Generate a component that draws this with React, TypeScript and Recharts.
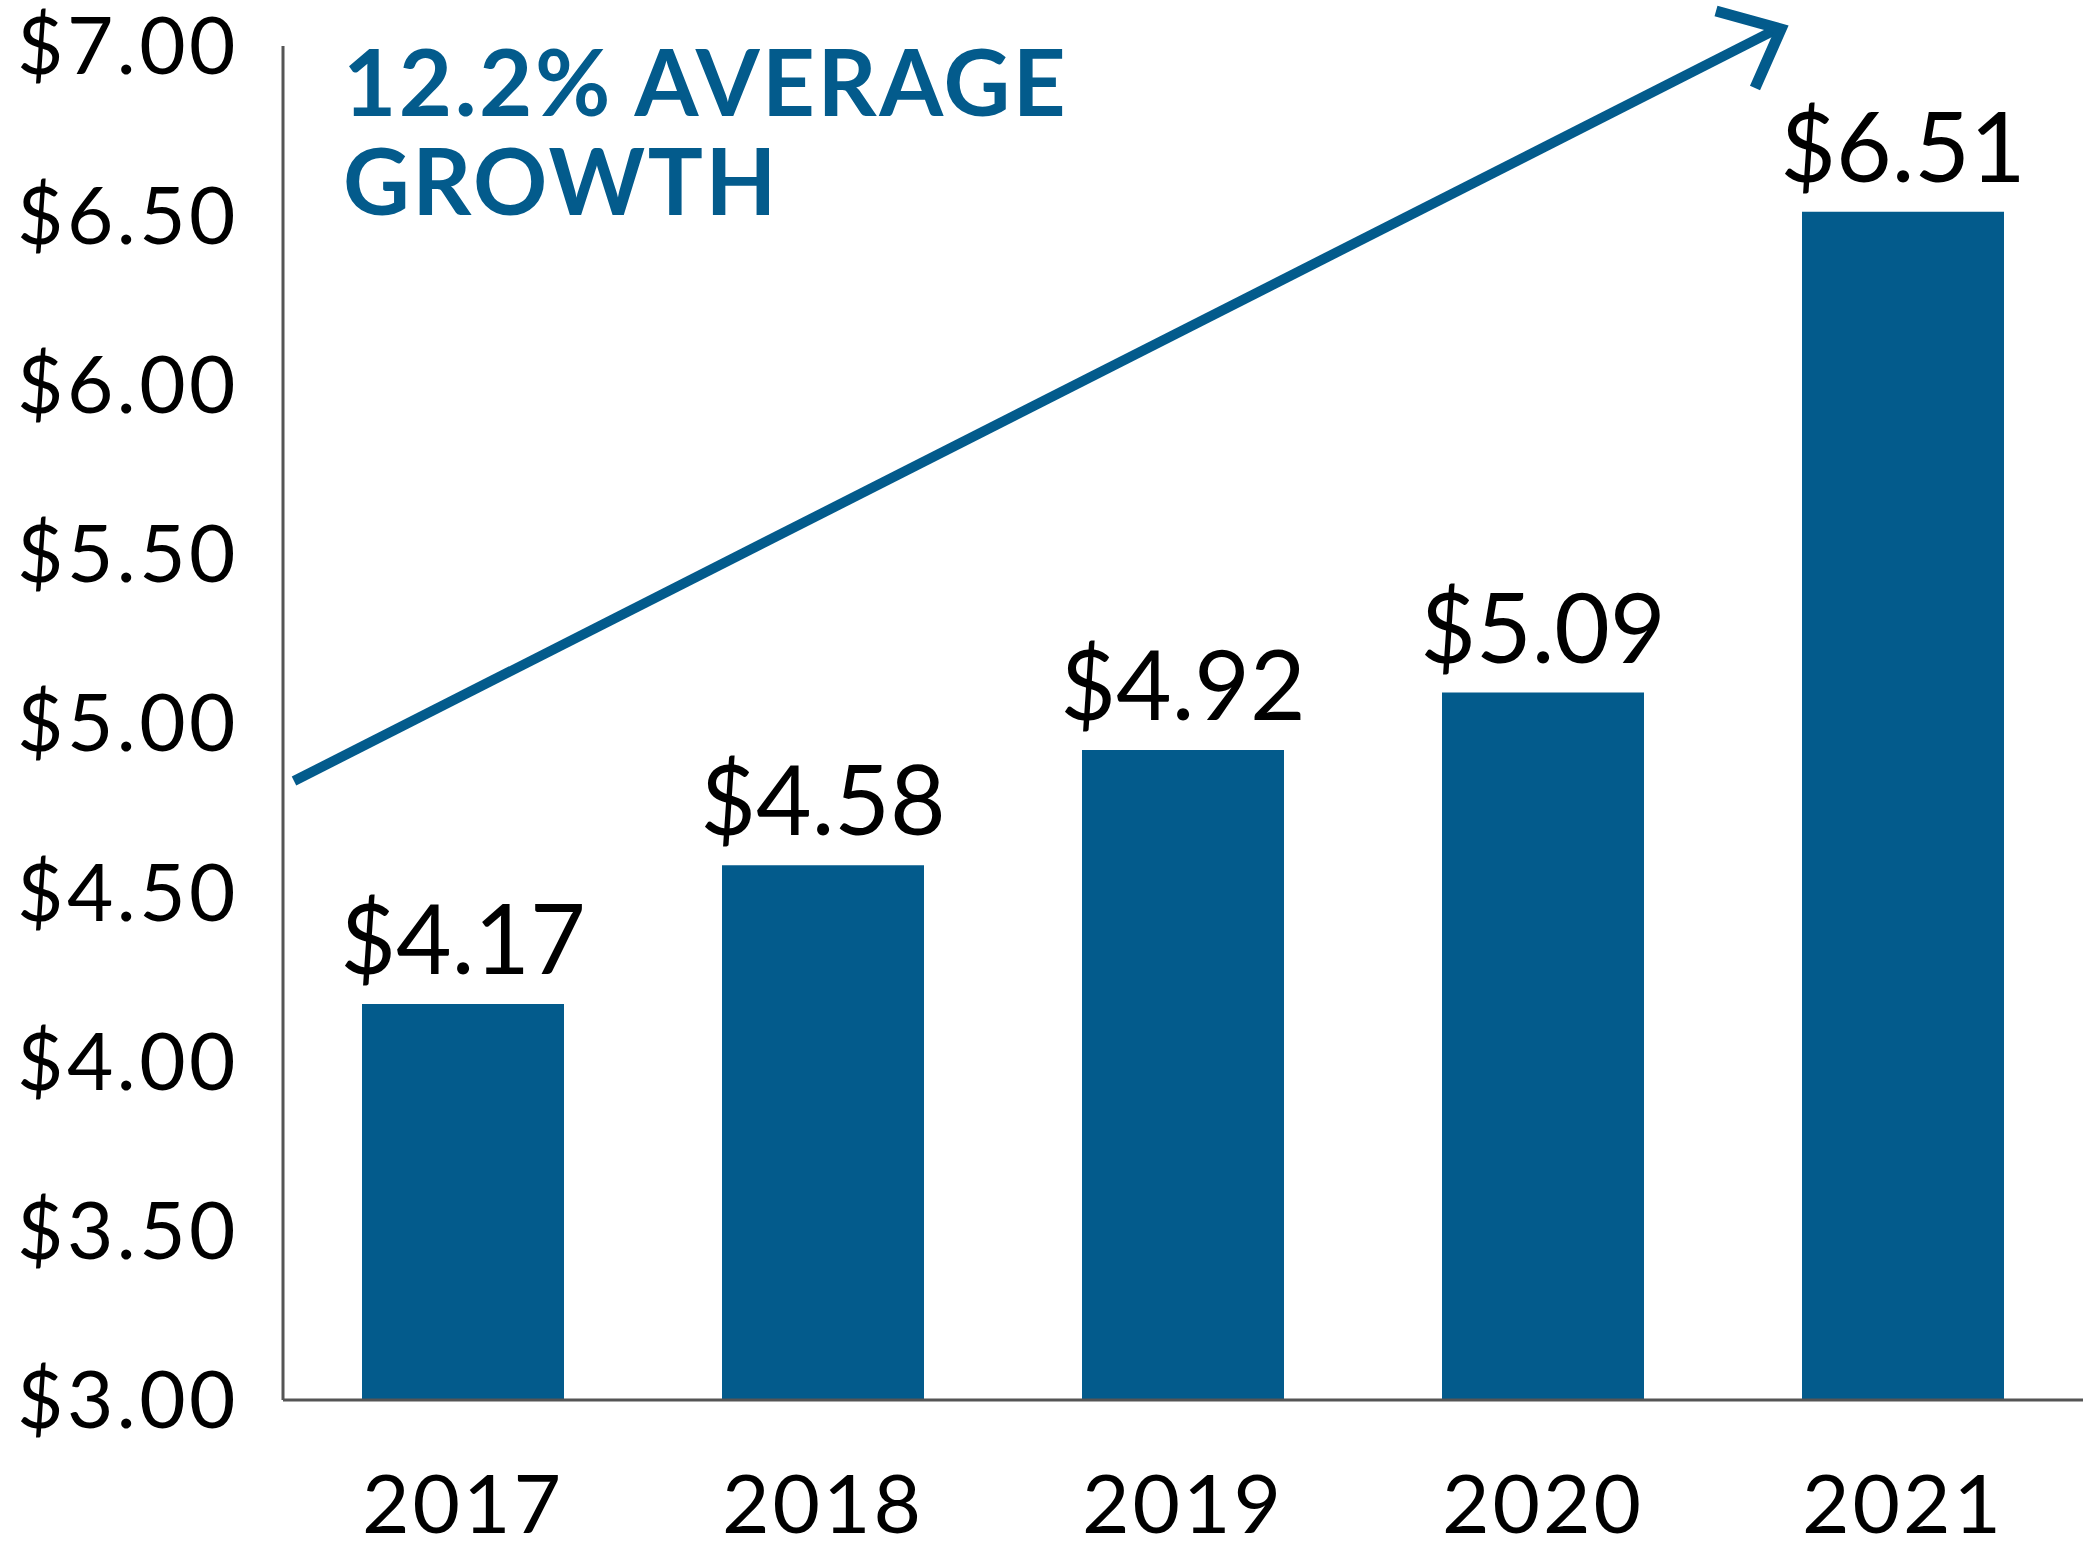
import { BarChart, Bar, XAxis, YAxis, LabelList } from 'recharts'

const years = ['2017', '2018', '2019', '2020', '2021']
const values = [4.17, 4.58, 4.92, 5.09, 6.51]
const yTicks = [3, 3.5, 4, 4.5, 5, 5.5, 6, 6.5, 7]
const titleLines = ['12.2% AVERAGE', 'GROWTH']

const data = years.map((year, i) => ({ year, value: values[i] }))

const BLUE = '#035b8c'
const AXIS = '#555555'
const FONT = 'Lato, "Noto Sans", sans-serif'

const money = (v: number) => `$${Number(v).toFixed(2)}`

// growth arrow + headline drawn over the plot
function GrowthArrow() {
  return (
    <svg
      width={2083}
      height={1562}
      style={{ position: 'absolute', left: 0, top: 0, pointerEvents: 'none' }}
    >
      <line x1={294} y1={781} x2={1779} y2={28} stroke={BLUE} strokeWidth={10} />
      <polyline
        points="1716,11 1781,29 1755,88"
        fill="none"
        stroke={BLUE}
        strokeWidth={11}
        strokeLinejoin="miter"
      />
      <text
        x={343}
        y={116}
        fill={BLUE}
        fontFamily={FONT}
        fontWeight={700}
        fontSize={92}
        letterSpacing={2.5}
      >
        {titleLines.map((t, i) => (
          <tspan key={t} x={343} dy={i === 0 ? 0 : 99}>
            {t}
          </tspan>
        ))}
      </text>
    </svg>
  )
}

export default function App() {
  return (
    <div style={{ position: 'absolute', left: 0, top: 0, width: 2083, height: 1562, background: '#fff' }}>
      <BarChart
        width={2083}
        height={1562}
        data={data}
        margin={{ top: 46, right: 0, bottom: 0, left: 0 }}
        barSize={202}
      >
        <XAxis
          dataKey="year"
          height={162}
          interval={0}
          axisLine={{ stroke: AXIS, strokeWidth: 3 }}
          tickLine={false}
          tickSize={0}
          tickMargin={75}
          tick={{ fontSize: 82, fill: '#000', fontFamily: FONT, letterSpacing: 3 }}
        />
        <YAxis
          type="number"
          domain={[3, 7]}
          ticks={yTicks}
          width={283}
          axisLine={{ stroke: AXIS, strokeWidth: 3 }}
          tickLine={false}
          tickSize={0}
          tickMargin={44}
          tickFormatter={money}
          tick={{ fontSize: 80, fill: '#000', fontFamily: FONT, letterSpacing: 3.5 }}
        />
        <Bar dataKey="value" fill={BLUE} isAnimationActive={false}>
          <LabelList
            dataKey="value"
            position="top"
            offset={30}
            formatter={money}
            fill="#000"
            fontSize={96}
            fontFamily={FONT}
          />
        </Bar>
      </BarChart>
      <GrowthArrow />
    </div>
  )
}
